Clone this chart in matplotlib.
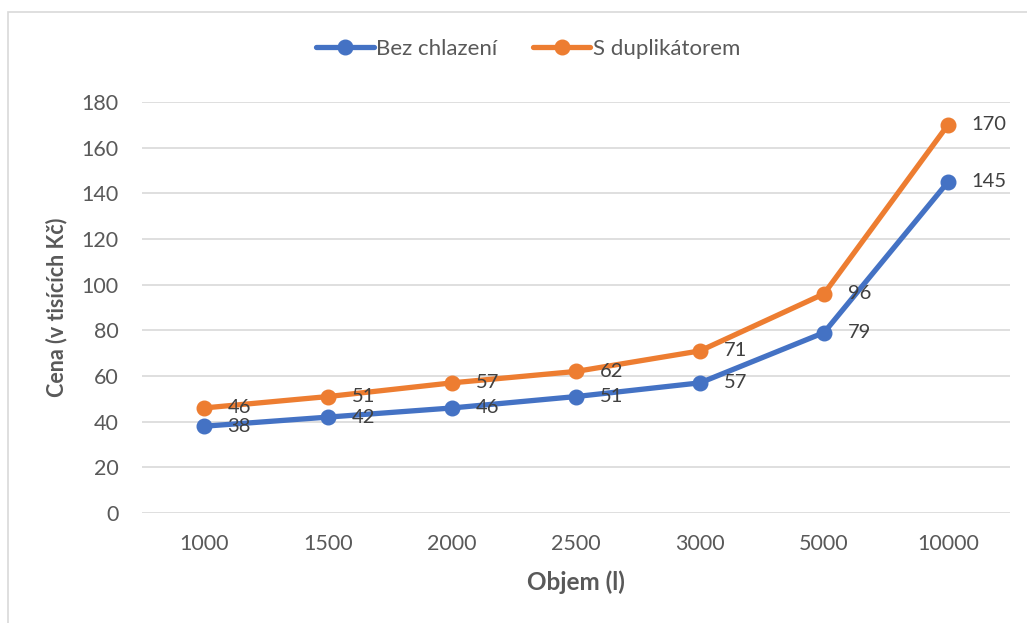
import matplotlib
matplotlib.use("Agg")
import matplotlib.pyplot as plt
from matplotlib.patches import Rectangle

categories = ["1000", "1500", "2000", "2500", "3000", "5000", "10000"]
bez_chlazeni = [38, 42, 46, 51, 57, 79, 145]
s_duplikatorem = [46, 51, 57, 62, 71, 96, 170]
series_names = ["Bez chlazení", "S duplikátorem"]
y_ticks = [0, 20, 40, 60, 80, 100, 120, 140, 160, 180]

plt.rcParams['font.family'] = ['Lato', 'DejaVu Sans']

W, H = 1027, 623
fig = plt.figure(figsize=(W / 100, H / 100), dpi=100)
fig.patch.set_facecolor("white")

# outer chart border (only top/left visible)
fig.add_artist(Rectangle((8 / W, -0.1), 1.2, (H - 12) / H + 0.1, transform=fig.transFigure,
                         fill=False, edgecolor="#D9D9D9", linewidth=1.2))

ax = fig.add_axes([142 / W, 110 / H, (1010 - 142) / W, (513 - 102) / H])
x = list(range(len(categories)))
colors = ["#4472C4", "#ED7D31"]

for vals, name, c in zip([bez_chlazeni, s_duplikatorem], series_names, colors):
    ax.plot(x, vals, color=c, linewidth=3.8, marker="o", markersize=10.5,
            label=name, solid_capstyle="round", zorder=3)
    for xi, v in zip(x, vals):
        ax.annotate(str(v), (xi, v), xytext=(17, 0), textcoords="offset points",
                    ha="left", va="center", fontsize=14.5, color="#404040", zorder=4)

ax.set_xlim(-0.5, len(categories) - 0.5)
ax.set_ylim(0, 180)
ax.set_yticks(y_ticks)
ax.set_xticks(x)
ax.set_xticklabels(categories)
ax.grid(axis="y", color="#D9D9D9", linewidth=1.2)
ax.set_axisbelow(True)
for s in ax.spines.values():
    s.set_visible(False)
ax.tick_params(axis="both", length=0, labelsize=15.5, colors="#595959")
ax.tick_params(axis="y", pad=17)
ax.tick_params(axis="x", pad=15)

ax.set_xlabel("Objem (l)", fontsize=17.5, fontweight="bold", color="#595959", labelpad=12)
ax.set_ylabel("Cena (v tisících Kč)", fontsize=15.5, fontweight="bold", color="#595959", labelpad=10)

leg = fig.legend(loc="center", bbox_to_anchor=(528 / W, 1 - 49 / H), ncol=2, frameon=False,
                 fontsize=16, handlelength=2.6, columnspacing=1.6, handletextpad=0.1,
                 labelcolor="#595959")

fig.savefig("out.png", dpi=100, facecolor="white")
